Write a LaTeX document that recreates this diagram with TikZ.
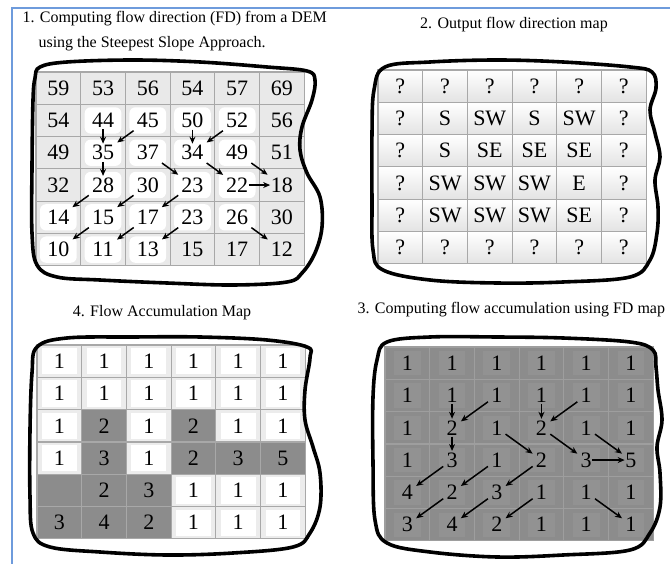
\documentclass[tikz,border=0pt]{standalone}
\usepackage{fontspec}
\setmainfont{Liberation Serif}
\usetikzlibrary{arrows.meta}
\definecolor{framecol}{RGB}{110,155,220}
\definecolor{gridline}{RGB}{168,168,168}
\definecolor{lightcell}{RGB}{233,233,233}
\definecolor{litedge}{RGB}{236,236,236}
\definecolor{darkcell}{RGB}{140,140,140}
\definecolor{darkpatch}{RGB}{146,146,146}
\definecolor{darkline}{RGB}{158,158,158}
\newcommand{\cellw}{44.7}
\newcommand{\cellh}{32.3}
\tikzset{
  cell/.style={font=\fontsize{22}{22}\selectfont, inner sep=1.5pt},
  title/.style={font=\fontsize{16}{25}\selectfont},
  blob/.style={line width=3.6pt, line join=round},
  flow/.style={-{Stealth[length=7pt,width=6pt]}, line width=1.5pt},
  wp/.style={fill=white},
  gp/.style={fill=none},
  lit/.style={fill=litedge, draw=gridline},
  drk/.style={fill=darkcell, draw=gridline},
  lit-in/.style={fill=white},
  drk-in/.style={fill=none},
}

\begin{document}
\begin{tikzpicture}[x=1pt, y=-1pt]
\useasboundingbox (0,0) rectangle (670,564);
\clip (0,0) rectangle (670,564);
% Frame
\draw[framecol, line width=1.6pt] (12,564) -- (12,8) -- (670,8);
% Titles
\node[title, anchor=west, align=left] (t1) at (19,31)
  {1. Computing flow direction (FD) from a DEM\\\hphantom{1.\ }using the Steepest Slope Approach.};
\node[title] (t2) at (514,25) {2. Output flow direction map};
\node[title] (t4) at (162,313) {4. Flow Accumulation Map};
\node[title, anchor=west] (t3) at (354,310) {3. Computing flow accumulation using FD map};
% 1. DEM
\begin{scope}[shift={(36,72)}]
\foreach \r/\vals in {
  0/{59/gp,53/gp,56/gp,54/gp,57/gp,69/gp},
  1/{54/gp,44/wp,45/wp,50/wp,52/wp,56/gp},
  2/{49/gp,35/wp,37/wp,34/wp,49/wp,51/gp},
  3/{32/gp,28/wp,30/wp,23/wp,22/wp,18/gp},
  4/{14/wp,15/wp,17/wp,23/wp,26/wp,30/gp},
  5/{10/wp,11/wp,13/wp,15/gp,17/gp,12/gp}} {
  \foreach \v/\s [count=\c from 0] in \vals {
    \filldraw[fill=lightcell, draw=gridline, line width=1.2pt]
      (\c*\cellw,\r*\cellh) rectangle ++(\cellw,\cellh);
    \path[\s, rounded corners=6pt] (\c*\cellw+4,\r*\cellh+3) rectangle ++(\cellw-8,\cellh-6);
    \node[cell] (dem-\r-\c) at (\c*\cellw+\cellw/2, \r*\cellh+\cellh/2) {\v};
  }
}
\end{scope}
% 2. Flow direction
\begin{scope}[shift={(378,70)}]
\foreach \r/\vals in {
  0/{?,?,?,?,?,?},
  1/{?,S,SW,S,SW,?},
  2/{?,S,SE,SE,SE,?},
  3/{?,SW,SW,SW,E,?},
  4/{?,SW,SW,SW,SE,?},
  5/{?,?,?,?,?,?}} {
  \foreach \v [count=\c from 0] in \vals {
    \path[draw=gridline, line width=1.2pt, top color=white, bottom color=gray!22]
      (\c*\cellw,\r*\cellh) rectangle ++(\cellw,\cellh);
    \node[cell] (fdm-\r-\c) at (\c*\cellw+\cellw/2, \r*\cellh+\cellh/2) {\v};
  }
}
\end{scope}
% 4. Flow accumulation map
\begin{scope}[shift={(37,345)}]
\foreach \r/\vals in {
  0/{1/lit,1/lit,1/lit,1/lit,1/lit,1/lit},
  1/{1/lit,1/lit,1/lit,1/lit,1/lit,1/lit},
  2/{1/lit,2/drk,1/lit,2/drk,1/lit,1/lit},
  3/{1/lit,3/drk,1/lit,2/drk,3/drk,5/drk},
  4/{/drk,2/drk,3/drk,1/lit,1/lit,1/lit},
  5/{3/drk,4/drk,2/drk,1/lit,1/lit,1/lit}} {
  \foreach \v/\s [count=\c from 0] in \vals {
    \filldraw[\s, line width=1.2pt] (\c*\cellw,\r*\cellh) rectangle ++(\cellw,\cellh);
    \path[\s-in] (\c*\cellw+5,\r*\cellh+3) rectangle ++(\cellw-10,\cellh-6);
    \node[cell] (fam-\r-\c) at (\c*\cellw+\cellw/2, \r*\cellh+\cellh/2) {\v};
  }
}
\end{scope}
% 3. Accumulation with FD
\begin{scope}[shift={(385,347)}]
\foreach \r/\vals in {
  0/{1,1,1,1,1,1},
  1/{1,1,1,1,1,1},
  2/{1,2,1,2,1,1},
  3/{1,3,1,2,3,5},
  4/{4,2,3,1,1,1},
  5/{3,4,2,1,1,1}} {
  \foreach \v [count=\c from 0] in \vals {
    \filldraw[fill=darkcell, draw=darkline, line width=1.2pt]
      (\c*\cellw,\r*\cellh) rectangle ++(\cellw,\cellh);
    \fill[darkpatch] (\c*\cellw+9,\r*\cellh+4) rectangle ++(\cellw-18,\cellh-8);
    \node[cell] (acc-\r-\c) at (\c*\cellw+\cellw/2, \r*\cellh+\cellh/2) {\v};
  }
}
\end{scope}
% Flow arrows (same in 1 and 3): from/to/shorten
\foreach \a/\b/\sh in {1-1/2-1/0pt, 1-3/2-3/0pt, 2-1/3-1/0pt, 3-4/3-5/-1pt,
                       1-2/2-1/2pt, 1-4/2-3/2pt,
                       2-2/3-3/2pt, 2-3/3-4/2pt, 2-4/3-5/2pt,
                       3-1/4-0/2pt, 3-2/4-1/2pt, 3-3/4-2/2pt,
                       4-1/5-0/2pt, 4-2/5-1/2pt, 4-3/5-2/2pt, 4-4/5-5/2pt} {
  \draw[flow, shorten <=\sh, shorten >=\sh] (dem-\a) -- (dem-\b);
  \draw[flow, shorten <=\sh, shorten >=\sh] (acc-\a) -- (acc-\b);
}
% Hand-drawn outlines
\draw[blob] plot[smooth cycle, tension=0.6] coordinates {
  (40,67) (67,62) (133,60) (200,62) (267,67) (307,71) (315,80) (312,100)
  (302,127) (300,150) (307,173) (320,197) (322,227) (315,253) (302,273)
  (287,282) (233,285) (167,283) (100,280) (57,277) (37,265) (32,233)
  (32,167) (33,100) (35,78)};
\draw[blob] plot[smooth cycle, tension=0.6] coordinates {
  (385,67) (430,62) (497,60) (563,62) (630,67) (652,72) (656,88) (650,110)
  (655,133) (660,157) (655,180) (658,207) (657,233) (650,260) (630,277)
  (563,282) (497,283) (430,280) (383,270) (373,250) (372,200) (372,133)
  (374,90)};
\draw[blob] plot[smooth cycle, tension=0.6] coordinates {
  (37,347) (67,338) (133,337) (200,337) (267,340) (307,347) (310,358)
  (305,390) (305,420) (313,447) (320,473) (320,507) (310,533) (293,547)
  (233,553) (167,555) (100,552) (50,547) (33,533) (30,497) (30,430) (32,373)};
\draw[blob] plot[smooth cycle, tension=0.6] coordinates {
  (387,342) (430,337) (497,337) (563,338) (630,342) (653,350) (656,367)
  (658,390) (662,420) (657,447) (660,473) (660,507) (650,533) (630,550)
  (563,555) (497,557) (430,552) (387,543) (375,520) (373,463) (373,397)
  (377,360)};
\end{tikzpicture}
\end{document}
